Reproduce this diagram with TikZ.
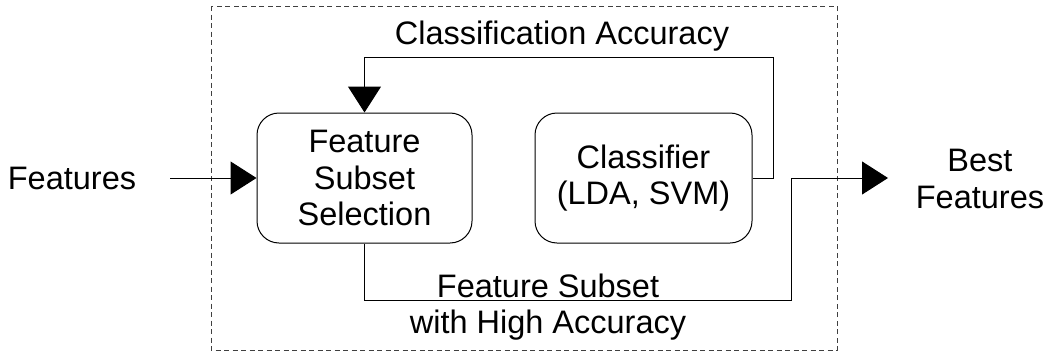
\documentclass[tikz,border=0pt]{standalone}
\usepackage{fontspec}
\setmainfont{Liberation Sans}
\usetikzlibrary{arrows.meta}
\begin{document}
\begin{tikzpicture}[x=1pt,y=-1pt,
  every node/.style={font=\fontsize{32.5}{36.5}\selectfont, align=center, inner sep=0pt},
  blockbox/.style={draw, line width=1pt, rounded corners=22pt, minimum height=130pt},
  conn/.style={draw, line width=1pt},
  arr/.style={conn, -{Triangle[length=26pt,width=33pt]}},
  framebox/.style={draw, line width=0.9pt, dash pattern=on 5pt off 3.5pt, black!75}
]
\useasboundingbox (0,0) rectangle (1046,356);
\draw[framebox] (211,6) rectangle (837,350);
\node[blockbox, minimum width=215pt] (fss) at (364.5,178) {Feature\\Subset\\Selection};
\node[blockbox, minimum width=217pt] (cls) at (643.5,178) {Classifier\\(LDA, SVM)};
\node (feat) at (72,178) {Features};
\node (best) at (980,179) {Best\\Features};
\node (cacc) at (562,36) {Classification Accuracy};
\node (fsub) at (548,307) {Feature Subset\\with High Accuracy};
\coordinate (fin) at (170,178);
\coordinate (bin) at (888,178);
\coordinate (fbk) at (773,57);
\coordinate (outc) at (791,300);
\draw[arr] (fin) -- (fss.west);
\draw[arr] (cls.east) -| (fbk) -| (fss.north);
\draw[arr] (fss.south) |- (outc) |- (bin);
\end{tikzpicture}
\end{document}
